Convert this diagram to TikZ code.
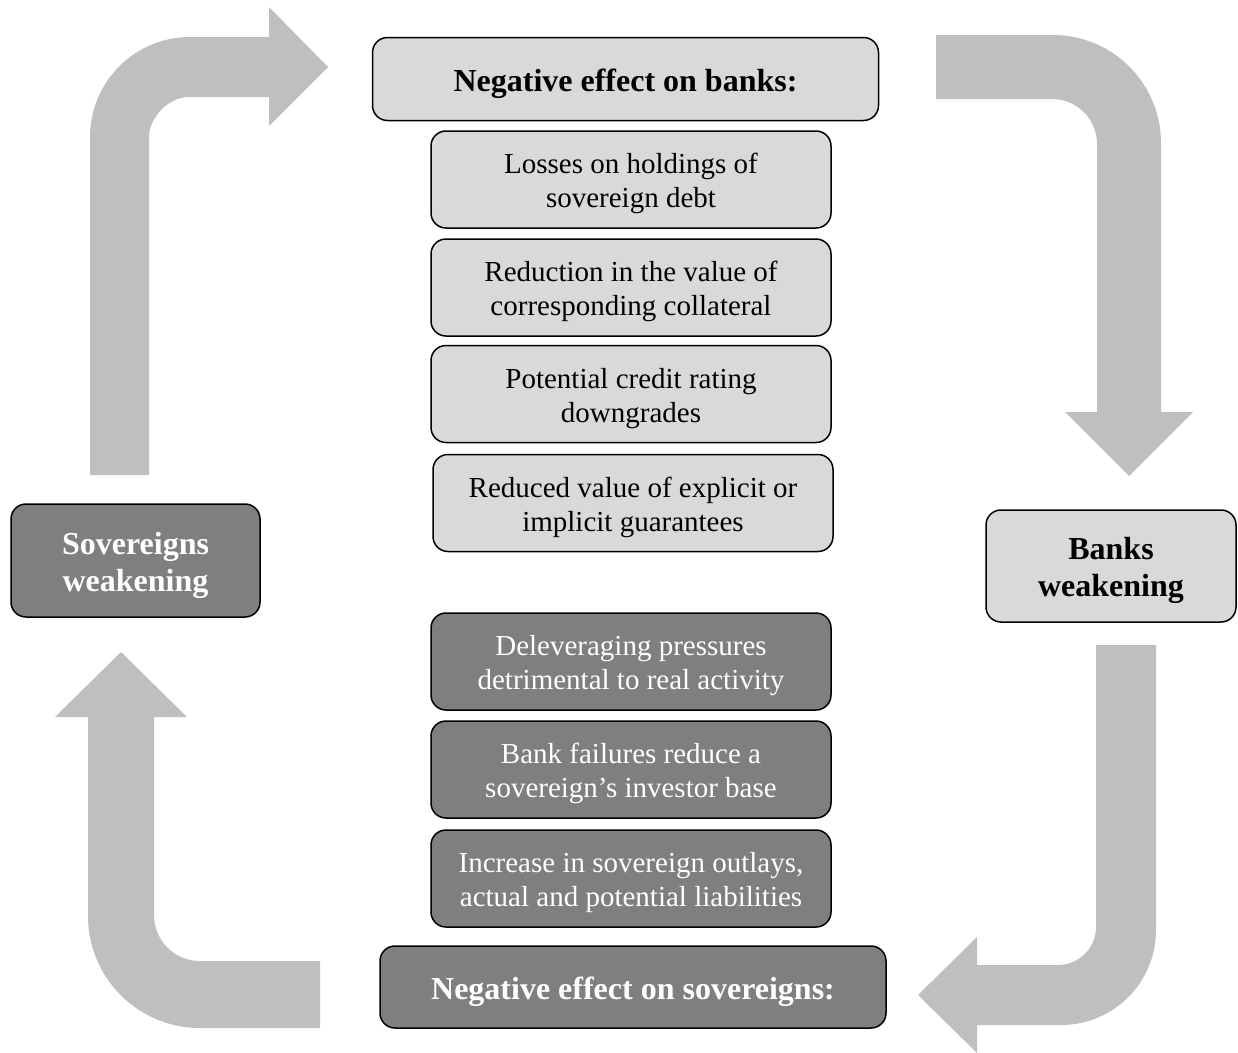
\documentclass[tikz,border=0pt]{standalone}
\usepackage{fontspec}
\setmainfont{Liberation Serif}
\definecolor{lightbox}{HTML}{D9D9D9}
\definecolor{darkbox}{HTML}{7F7F7F}
\definecolor{arrowgray}{HTML}{BFBFBF}
\tikzset{
  basebox/.style={draw=black, line width=1.5pt, rounded corners=15pt, align=center, inner sep=0pt},
  itemtext/.style={font=\fontsize{29}{34}\selectfont, text height=63pt, text depth=7pt},
  headtext/.style={font=\bfseries\fontsize{32}{37}\selectfont, text height=32pt, text depth=7.5pt},
  sidetext/.style={font=\bfseries\fontsize{32}{37}\selectfont, text height=69pt, text depth=7.5pt},
  lightitem/.style={basebox, itemtext, fill=lightbox, text=black, minimum width=400pt, minimum height=97pt},
  darkitem/.style={basebox, itemtext, fill=darkbox, text=white, minimum width=400pt, minimum height=97pt},
  lighthead/.style={basebox, fill=lightbox, text=black},
  darkhead/.style={basebox, fill=darkbox, text=white},
  bigarrow/.style={fill=arrowgray, draw=none}
}
\begin{document}
\begin{tikzpicture}[x=1pt,y=-1pt]
\useasboundingbox (0,0) rectangle (1238,1052);
% cycle arrows
\fill[bigarrow] (90,475) -- (90,137) .. controls (90,81.8) and (134.8,37) .. (190,37) -- (269,37) -- (269,7) -- (328,67) -- (269,126) -- (269,97) -- (189,97) .. controls (166.9,97) and (149,119.1) .. (149,137) -- (149,475) -- cycle;
\fill[bigarrow] (936,35) -- (1053,35) .. controls (1112.6,35) and (1161,83.4) .. (1161,143) -- (1161,412) -- (1193,412) -- (1129,476) -- (1065,412) -- (1097,412) -- (1097,144) .. controls (1097,119.1) and (1076.9,99) .. (1052,99) -- (936,99) -- cycle;
\fill[bigarrow] (1096,645) -- (1156,645) -- (1156,930) .. controls (1156,982.5) and (1113.5,1025) .. (1061,1025) -- (977,1025) -- (977,1053) -- (918,995) -- (977,937) -- (977,965) -- (1058,965) .. controls (1079,965) and (1096,948) .. (1096,927) -- cycle;
\fill[bigarrow] (320,961) -- (200,961) .. controls (174.6,961) and (154,940.4) .. (154,915) -- (154,717) -- (187,717) -- (121,652) -- (55,717) -- (88,717) -- (88,916) .. controls (88,977.9) and (138.1,1028) .. (200,1028) -- (320,1028) -- cycle;
% boxes
\node[lighthead, headtext, minimum width=506pt, minimum height=83pt] (nb) at (625.5,79) {Negative effect on banks:};
\node[lightitem] (l1) at (631,179.5) {Losses on holdings of\\sovereign debt};
\node[lightitem] (l2) at (631,287.5) {Reduction in the value of\\corresponding collateral};
\node[lightitem] (l3) at (631,394) {Potential credit rating\\downgrades};
\node[lightitem] (l4) at (633,503) {Reduced value of explicit or\\implicit guarantees};
\node[darkhead, sidetext, minimum width=249pt, minimum height=113pt] (sw) at (135.5,560.5) {Sovereigns\\weakening};
\node[lighthead, sidetext, minimum width=250pt, minimum height=112pt] (bw) at (1111,566) {Banks\\weakening};
\node[darkitem] (d1) at (631,661.5) {Deleveraging pressures\\detrimental to real activity};
\node[darkitem] (d2) at (631,769.5) {Bank failures reduce a\\sovereign’s investor base};
\node[darkitem] (d3) at (631,878.5) {Increase in sovereign outlays,\\actual and potential liabilities};
\node[darkhead, headtext, minimum width=506pt, minimum height=82pt] (ns) at (633,987) {Negative effect on sovereigns:};
\end{tikzpicture}
\end{document}
